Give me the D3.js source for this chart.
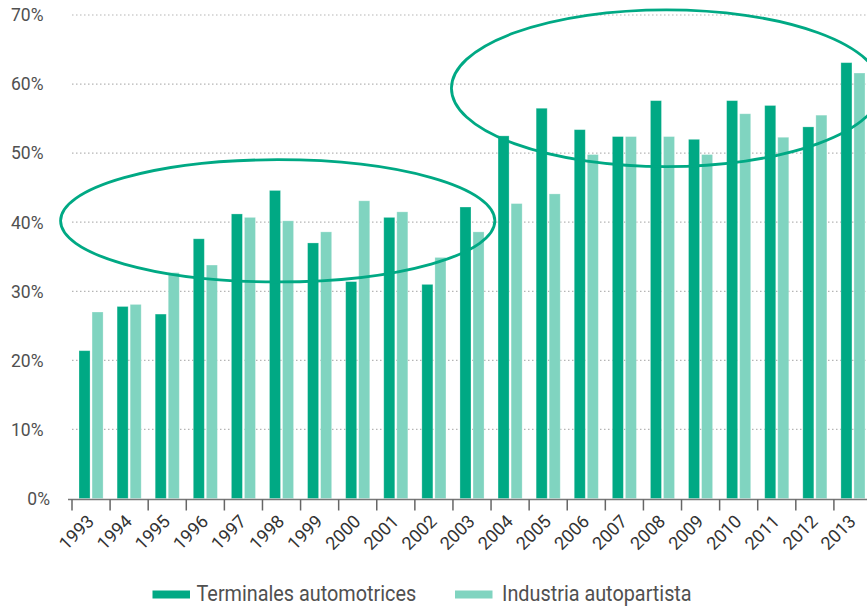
<!DOCTYPE html>
<html>
<head>
<meta charset="utf-8">
<script src="https://cdn.jsdelivr.net/npm/d3@7/dist/d3.min.js"></script>
<style>
  html, body { margin: 0; padding: 0; background: #fff; }
  svg { display: block; }
  text { font-family: Roboto, "Noto Sans", sans-serif; fill: #505050; }
</style>
</head>
<body>
<svg id="chart" width="867" height="606"></svg>
<script>
// ---- data ----
const years = ["1993","1994","1995","1996","1997","1998","1999","2000","2001","2002","2003",
               "2004","2005","2006","2007","2008","2009","2010","2011","2012","2013"];
const terminales = [21.4, 27.8, 26.7, 37.6, 41.2, 44.6, 37.0, 31.4, 40.7, 31.0, 42.2,
                    52.5, 56.5, 53.4, 52.4, 57.6, 52.0, 57.6, 56.9, 53.8, 63.1];
const autopartista = [27.0, 28.1, 32.7, 33.8, 40.7, 40.2, 38.6, 43.1, 41.5, 34.9, 38.6,
                      42.7, 44.1, 49.8, 52.4, 52.4, 49.8, 55.7, 52.3, 55.5, 61.6];
const seriesNames = ["Terminales automotrices", "Industria autopartista"];
const yTicks = [0, 10, 20, 30, 40, 50, 60, 70];
// highlight ellipses in data units: centre year (band start + offset in bands), centre value, radii (bands, %)
const highlights = [
  { year: "1998", bandOffset: 0.4, value: 40.2, rBands: 5.7, rValue: 8.85 },
  { year: "2008", bandOffset: 0.6, value: 59.4, rBands: 5.64, rValue: 11.35 }
];

const colors = ["#00a984", "#80d4c0"];

const svg = d3.select("#chart");
const mLeft = 72, mRight = 872, mTop = 15, mBottom = 498.5;

const x = d3.scaleBand().domain(years).range([mLeft, mRight]).padding(0);
const x1 = d3.scaleBand().domain([0, 1]).range([7, x.bandwidth() - 7]).paddingInner(0.154);
const y = d3.scaleLinear().domain([0, 70]).range([mBottom, mTop]);

// gridlines
svg.append("g").selectAll("line").data(yTicks.filter(d => d > 0)).join("line")
  .attr("x1", mLeft).attr("x2", 867)
  .attr("y1", d => y(d)).attr("y2", d => y(d))
  .attr("stroke", "#b5b5b5").attr("stroke-width", 1.2)
  .attr("stroke-dasharray", "1.5,2.5");

// y labels
svg.append("g").selectAll("text").data(yTicks).join("text")
  .attr("x", d => d === 0 ? 50 : 43.5)
  .attr("y", d => y(d))
  .attr("dy", "0.36em")
  .attr("text-anchor", "end")
  .style("font-size", "17.5px")
  .text(d => d + "%");

// bars
const data = years.map((yr, i) => ({ year: yr, vals: [terminales[i], autopartista[i]] }));
const groups = svg.append("g").selectAll("g").data(data).join("g")
  .attr("transform", d => `translate(${x(d.year)},0)`);
groups.selectAll("rect").data(d => d.vals.map((v, k) => ({ v, k }))).join("rect")
  .attr("x", d => x1(d.k))
  .attr("width", x1.bandwidth())
  .attr("y", d => y(d.v))
  .attr("height", d => y(0) - y(d.v))
  .attr("fill", d => colors[d.k])
  .attr("stroke", "#ffffff").attr("stroke-opacity", 0.35).attr("stroke-width", 0.8);

// x axis
const axis = svg.append("g").attr("transform", `translate(0,${mBottom + 1})`);
axis.append("line").attr("x1", 68).attr("x2", 867).attr("y1", 0).attr("y2", 0)
  .attr("stroke", "#777").attr("stroke-width", 1.5);
axis.selectAll("line.tick").data(years).join("line").attr("class", "tick")
  .attr("x1", d => x(d)).attr("x2", d => x(d))
  .attr("y1", 0).attr("y2", 11)
  .attr("stroke", "#666").attr("stroke-width", 1.5);
axis.selectAll("text").data(years).join("text")
  .attr("transform", d => `translate(${x(d) + x.bandwidth() / 2 + 4},${23}) rotate(-45)`)
  .attr("text-anchor", "end")
  .style("font-size", "18px")
  .style("fill", "#333")
  .text(d => d);

// highlight ellipses
svg.append("g").selectAll("ellipse").data(highlights).join("ellipse")
  .attr("cx", d => x(d.year) + d.bandOffset * x.step())
  .attr("cy", d => y(d.value))
  .attr("rx", d => d.rBands * x.step())
  .attr("ry", d => y(0) - y(d.rValue))
  .attr("fill", "none")
  .attr("stroke", colors[0])
  .attr("stroke-width", 2.8);

// legend
const legendX = [152.5, 455];
const lg = svg.append("g").selectAll("g").data(seriesNames).join("g")
  .attr("transform", (d, i) => `translate(${legendX[i]},590.5)`);
lg.append("rect").attr("width", 37.5).attr("height", 8).attr("fill", (d, i) => colors[i]);
lg.append("text")
  .attr("transform", (d, i) => `translate(${i === 0 ? 44 : 47},10.5) scale(0.91,1)`)
  .style("font-size", "21.8px")
  .text(d => d);
</script>
</body>
</html>
